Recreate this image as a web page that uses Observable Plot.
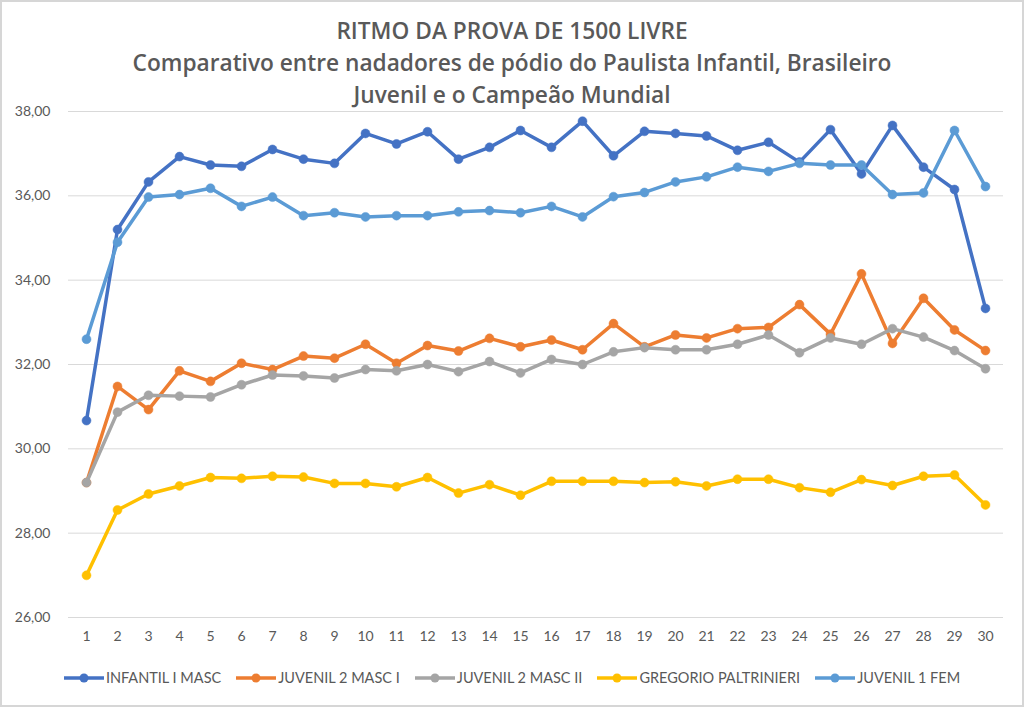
<!DOCTYPE html>
<html>
<head>
<meta charset="utf-8">
<script src="https://cdn.jsdelivr.net/npm/d3@7"></script>
<script src="https://cdn.jsdelivr.net/npm/@observablehq/plot@0.6"></script>
<style>
  body { margin: 0; background: #fff; }
  #wrap { position: relative; width: 1024px; height: 707px; background: #fff; overflow: hidden; font-family: Lato, "Liberation Sans", sans-serif; }
  #frame { position: absolute; inset: 0; border: 2px solid #d6d6d6; pointer-events: none; }
  .title { position: absolute; left: 0; width: 1024px; text-align: center; color: #595959; font-family: "Open Sans", Lato, sans-serif; font-weight: 600; font-size: 22.7px; line-height: 24px; white-space: nowrap; }
  #legend { position: absolute; left: 0; top: 669px; width: 1024px; display: flex; justify-content: center; gap: 15px; color: #595959; font-size: 14.5px; line-height: 18px; }
  #legend .item { display: flex; align-items: center; gap: 2px; white-space: nowrap; }
  #chart { position: absolute; left: 0; top: 0; }
</style>
</head>
<body>
<div id="wrap">
  <div id="chart"></div>
  <div class="title" style="top:19px">RITMO DA PROVA DE 1500 LIVRE</div>
  <div class="title" style="top:51px">Comparativo entre nadadores de pódio do Paulista Infantil, Brasileiro</div>
  <div class="title" style="top:83px">Juvenil e o Campeão Mundial</div>
  <div id="legend"></div>
  <div id="frame"></div>
</div>
<script>
const laps = [1,2,3,4,5,6,7,8,9,10,11,12,13,14,15,16,17,18,19,20,21,22,23,24,25,26,27,28,29,30];
const yTicks = [26,28,30,32,34,36,38];

const seriesNames = ["INFANTIL I MASC", "JUVENIL 2 MASC I", "JUVENIL 2 MASC II", "GREGORIO PALTRINIERI", "JUVENIL 1 FEM"];
const seriesColors = ["#4472C4", "#ED7D31", "#A5A5A5", "#FFC000", "#5B9BD5"];

const infantilMasc = [30.67,35.20,36.33,36.93,36.73,36.70,37.10,36.87,36.77,37.48,37.23,37.52,36.87,37.15,37.55,37.15,37.77,36.95,37.53,37.48,37.42,37.08,37.27,36.80,37.57,36.52,37.67,36.68,36.15,33.33];
const juvenil2MascI = [29.20,31.48,30.93,31.85,31.60,32.03,31.88,32.20,32.15,32.48,32.03,32.45,32.32,32.62,32.42,32.58,32.35,32.97,32.42,32.70,32.63,32.85,32.88,33.42,32.72,34.15,32.50,33.57,32.82,32.33];
const juvenil2MascII = [29.20,30.87,31.27,31.25,31.23,31.52,31.75,31.73,31.68,31.88,31.85,32.00,31.83,32.07,31.80,32.12,32.00,32.30,32.40,32.35,32.35,32.48,32.70,32.28,32.63,32.48,32.85,32.65,32.33,31.90];
const gregorio = [27.00,28.55,28.93,29.12,29.32,29.30,29.35,29.33,29.18,29.18,29.10,29.32,28.95,29.15,28.90,29.23,29.23,29.23,29.20,29.22,29.12,29.28,29.28,29.08,28.97,29.27,29.13,29.35,29.38,28.67];
const juvenil1Fem = [32.60,34.90,35.97,36.03,36.18,35.75,35.97,35.53,35.60,35.50,35.53,35.53,35.62,35.65,35.60,35.75,35.50,35.98,36.08,36.33,36.45,36.68,36.58,36.77,36.73,36.73,36.03,36.07,37.55,36.22];

const seriesValues = [infantilMasc, juvenil2MascI, juvenil2MascII, gregorio, juvenil1Fem];

const fmt = d => d.toFixed(2).replace(".", ",");

const marks = [
  Plot.gridY(yTicks, {stroke: "#d9d9d9", strokeOpacity: 1, strokeWidth: 1}),
  Plot.axisY(yTicks, {tickSize: 0, tickPadding: 18, tickFormat: fmt, fill: "#595959", fontSize: 14, label: null}),
  Plot.axisX(laps, {tickSize: 0, tickPadding: 14, fill: "#595959", fontSize: 14, label: null})
];

seriesNames.forEach((name, i) => {
  const data = laps.map((lap, j) => ({lap, value: seriesValues[i][j], name}));
  marks.push(Plot.line(data, {x: "lap", y: "value", stroke: seriesColors[i], strokeWidth: 3.5}));
  marks.push(Plot.dot(data, {x: "lap", y: "value", r: 4.5, fill: seriesColors[i], stroke: seriesColors[i], strokeWidth: 0.5}));
});

const chart = Plot.plot({
  width: 1024,
  height: 707,
  marginLeft: 68,
  marginRight: 21,
  marginTop: 111,
  marginBottom: 90,
  style: {fontFamily: "Lato, 'Liberation Sans', sans-serif", background: "transparent"},
  x: {type: "point", domain: laps, padding: 0.5},
  y: {domain: [26, 38]},
  marks
});
document.getElementById("chart").appendChild(chart);

const legend = document.getElementById("legend");
seriesNames.forEach((name, i) => {
  const item = document.createElement("div");
  item.className = "item";
  item.innerHTML = `<svg width="40" height="10"><line x1="0" y1="5" x2="40" y2="5" stroke="${seriesColors[i]}" stroke-width="3.5"/><circle cx="20" cy="5" r="4.5" fill="${seriesColors[i]}"/></svg><span>${name}</span>`;
  legend.appendChild(item);
});
</script>
</body>
</html>
